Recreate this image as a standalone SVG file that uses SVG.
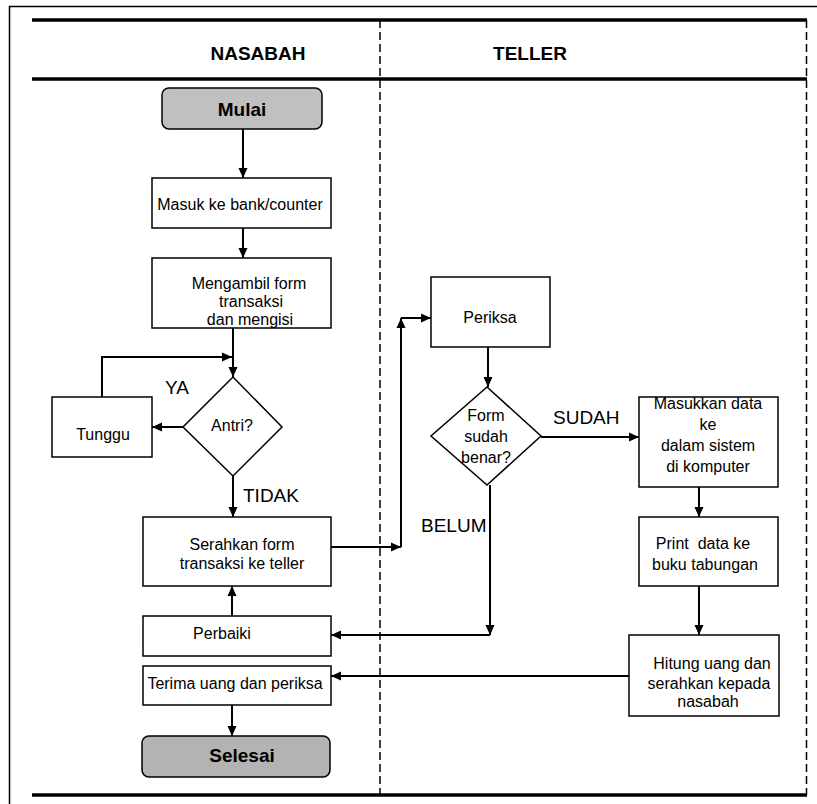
<svg xmlns="http://www.w3.org/2000/svg" width="817" height="804" viewBox="0 0 817 804">
<defs>
<marker id="ah" viewBox="0 0 10 10" refX="10" refY="5" markerWidth="10" markerHeight="10" markerUnits="userSpaceOnUse" orient="auto">
<path d="M0,0.5 L10,5 L0,9.5 z" fill="#000"/>
</marker>
<style>
.box{fill:#fff;stroke:#000;stroke-width:1.5}
.term1{fill:#c0c0c0;stroke:#000;stroke-width:1.5}
.term2{fill:#b3b3b3;stroke:#000;stroke-width:1.5}
.t{font-family:"Liberation Sans",Arial,sans-serif;font-size:16px;fill:#000;text-anchor:middle}
.tb{font-family:"Liberation Sans",Arial,sans-serif;font-size:19px;font-weight:bold;fill:#000;text-anchor:middle}
.lbl{font-family:"Liberation Sans",Arial,sans-serif;font-size:19px;fill:#000}
.c{fill:none;stroke:#000;stroke-width:2}
.ca{fill:none;stroke:#000;stroke-width:2;marker-end:url(#ah)}
.thick{stroke:#000;stroke-width:3.5}
.dash{stroke:#000;stroke-width:1.5;stroke-dasharray:8,4}
</style>
</defs>
<rect width="817" height="804" fill="#fff"/>
<g id="frame">
<rect x="9.5" y="6.5" width="900" height="900" fill="none" stroke="#000" stroke-width="1.5"/>
<line class="thick" x1="32" y1="20" x2="807" y2="20"/>
<line class="thick" x1="32" y1="79" x2="807" y2="79"/>
<line class="thick" x1="32" y1="795" x2="807" y2="795"/>
<line class="dash" x1="380" y1="20" x2="380" y2="795"/>
<line class="dash" x1="806.5" y1="20" x2="806.5" y2="795"/>
<text class="tb" x="258" y="60">NASABAH</text>
<text class="tb" x="530" y="60">TELLER</text>
</g>
<g id="connectors">
<line class="ca" x1="243" y1="129" x2="243" y2="178"/>
<line class="ca" x1="243" y1="228" x2="243" y2="258"/>
<line class="ca" x1="233" y1="328" x2="233" y2="377"/>
<polyline class="ca" points="102,397 102,357 232,357"/>
<line class="ca" x1="183" y1="427" x2="152" y2="427"/>
<line class="ca" x1="233" y1="476" x2="233" y2="517"/>
<line class="ca" x1="331" y1="547" x2="401" y2="547"/>
<line class="ca" x1="401" y1="547" x2="401" y2="318"/>
<line class="ca" x1="401" y1="318" x2="431" y2="318"/>
<line class="ca" x1="488" y1="347" x2="488" y2="387"/>
<line class="ca" x1="541" y1="437" x2="639" y2="437"/>
<line class="ca" x1="699" y1="487" x2="699" y2="517"/>
<line class="ca" x1="699" y1="586" x2="699" y2="635"/>
<line class="ca" x1="490" y1="485" x2="490" y2="635"/>
<line class="ca" x1="490" y1="635" x2="331" y2="635"/>
<line class="ca" x1="232" y1="616" x2="232" y2="586"/>
<line class="ca" x1="629" y1="676" x2="331" y2="676"/>
<line class="ca" x1="232" y1="705" x2="232" y2="736"/>
<text class="lbl" x="165" y="394">YA</text>
<text class="lbl" x="243" y="502">TIDAK</text>
<text class="lbl" x="553" y="424">SUDAH</text>
<text class="lbl" x="421" y="532">BELUM</text>
</g>
<g id="mulai">
<rect class="term1" x="162" y="88" width="160" height="41" rx="7"/>
<text class="tb" x="242" y="116">Mulai</text>
</g>
<g id="masuk">
<rect class="box" x="152" y="178" width="179" height="50"/>
<text class="t" x="240" y="210">Masuk ke bank/counter</text>
</g>
<g id="mengambil">
<rect class="box" x="152" y="258" width="179" height="70"/>
<text class="t" x="249" y="289">Mengambil form</text>
<text class="t" x="251" y="307">transaksi</text>
<text class="t" x="250" y="325">dan mengisi</text>
</g>
<g id="antri">
<polygon class="box" points="233,377 282,427 233,476 183,427"/>
<text class="t" x="232" y="431">Antri?</text>
</g>
<g id="tunggu">
<rect class="box" x="52" y="397" width="100" height="60"/>
<text class="t" x="103" y="440">Tunggu</text>
</g>
<g id="serahkan">
<rect class="box" x="143" y="517" width="188" height="69"/>
<text class="t" x="242" y="550">Serahkan form</text>
<text class="t" x="242" y="569">transaksi ke teller</text>
</g>
<g id="perbaiki">
<rect class="box" x="143" y="616" width="188" height="40"/>
<text class="t" x="222" y="639">Perbaiki</text>
</g>
<g id="terima">
<rect class="box" x="143" y="666" width="188" height="39"/>
<text class="t" x="235" y="689">Terima uang dan periksa</text>
</g>
<g id="selesai">
<rect class="term2" x="142" y="736" width="188" height="41" rx="7"/>
<text class="tb" x="242" y="762">Selesai</text>
</g>
<g id="periksa">
<rect class="box" x="431" y="277" width="119" height="70"/>
<text class="t" x="490" y="323">Periksa</text>
</g>
<g id="formbenar">
<polygon class="box" points="487,387 541,436 487,485 431,436"/>
<text class="t" x="486" y="421">Form</text>
<text class="t" x="486" y="442">sudah</text>
<text class="t" x="486" y="463">benar?</text>
</g>
<g id="masukkan">
<rect class="box" x="639" y="397" width="139" height="90"/>
<text class="t" x="708" y="409">Masukkan data</text>
<text class="t" x="708" y="430">ke</text>
<text class="t" x="708" y="451">dalam sistem</text>
<text class="t" x="708" y="472">di komputer</text>
</g>
<g id="print">
<rect class="box" x="639" y="517" width="139" height="69"/>
<text class="t" x="703" y="549" xml:space="preserve">Print  data ke</text>
<text class="t" x="705" y="570">buku tabungan</text>
</g>
<g id="hitung">
<rect class="box" x="629" y="635" width="150" height="81"/>
<text class="t" x="712" y="669">Hitung uang dan</text>
<text class="t" x="709" y="689">serahkan kepada</text>
<text class="t" x="708" y="707">nasabah</text>
</g>
</svg>
